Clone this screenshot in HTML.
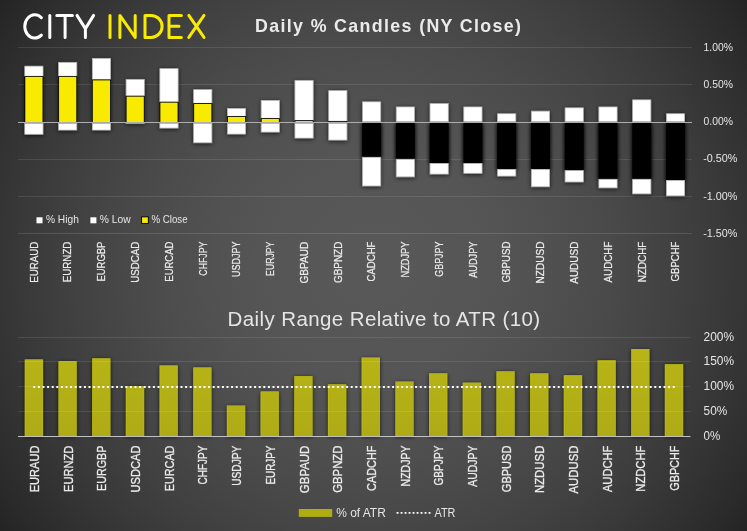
<!DOCTYPE html>
<html><head><meta charset="utf-8"><title>Daily % Candles</title>
<style>html,body{margin:0;padding:0;background:#2a2a2a;}body{width:747px;height:531px;overflow:hidden;}svg{display:block;font-family:"Liberation Sans",sans-serif;}text{opacity:0.996;}</style></head><body>
<svg width="747" height="531" viewBox="0 0 747 531">
<defs><radialGradient id="bg" gradientUnits="userSpaceOnUse" cx="373.5" cy="265.5" r="470"><stop offset="0.00" stop-color="#585858"/><stop offset="0.08" stop-color="#585858"/><stop offset="0.17" stop-color="#565656"/><stop offset="0.25" stop-color="#555555"/><stop offset="0.33" stop-color="#525252"/><stop offset="0.42" stop-color="#4e4e4e"/><stop offset="0.50" stop-color="#4a4a4a"/><stop offset="0.58" stop-color="#454545"/><stop offset="0.67" stop-color="#3f3f3f"/><stop offset="0.75" stop-color="#393939"/><stop offset="0.83" stop-color="#323232"/><stop offset="0.92" stop-color="#2a2a2a"/><stop offset="1.00" stop-color="#212121"/></radialGradient><filter id="sh" x="-30%" y="-30%" width="160%" height="160%"><feGaussianBlur in="SourceAlpha" stdDeviation="1.9"/><feOffset dx="0" dy="0.8"/><feComponentTransfer><feFuncA type="linear" slope="0.72"/></feComponentTransfer><feMerge><feMergeNode/><feMergeNode in="SourceGraphic"/></feMerge></filter><filter id="sh2" x="-40%" y="-10%" width="180%" height="120%"><feGaussianBlur in="SourceAlpha" stdDeviation="2.3"/><feOffset dx="0" dy="0.5"/><feComponentTransfer><feFuncA type="linear" slope="0.85"/></feComponentTransfer></filter><linearGradient id="ol" gradientUnits="userSpaceOnUse" x1="0" x2="0" y1="345" y2="436"><stop offset="0" stop-color="#b9b514"/><stop offset="1" stop-color="#aeab13"/></linearGradient></defs>
<rect width="747" height="531" fill="url(#bg)"/>
<rect x="18" y="47.0" width="674" height="1" fill="#fff" fill-opacity="0.105"/>
<rect x="18" y="84.0" width="674" height="1" fill="#fff" fill-opacity="0.105"/>
<rect x="18" y="159.0" width="674" height="1" fill="#fff" fill-opacity="0.105"/>
<rect x="18" y="196.0" width="674" height="1" fill="#fff" fill-opacity="0.105"/>
<rect x="18" y="233.0" width="674" height="1" fill="#fff" fill-opacity="0.125"/>
<g filter="url(#sh2)">
<rect x="362.2" y="123.0" width="18.9" height="33.9" fill="#000"/>
<rect x="395.9" y="123.0" width="18.9" height="35.9" fill="#000"/>
<rect x="429.7" y="123.0" width="18.9" height="40.1" fill="#000"/>
<rect x="463.5" y="123.0" width="18.9" height="40.1" fill="#000"/>
<rect x="497.2" y="123.0" width="18.9" height="46.0" fill="#000"/>
<rect x="531.0" y="123.0" width="18.9" height="46.0" fill="#000"/>
<rect x="564.8" y="123.0" width="18.9" height="47.2" fill="#000"/>
<rect x="598.5" y="123.0" width="18.9" height="55.9" fill="#000"/>
<rect x="632.3" y="123.0" width="18.9" height="55.9" fill="#000"/>
<rect x="666.1" y="123.0" width="18.9" height="57.0" fill="#000"/>
</g>
<g filter="url(#sh)">
<rect x="24.80" y="66.15" width="18.20" height="10.00" fill="#fff" stroke="#b4b4b4" stroke-width="0.7"/>
<rect x="24.45" y="76.00" width="18.9" height="46.00" fill="#0c0c0c"/>
<rect x="25.30" y="76.85" width="17.20" height="45.15" fill="#f8ea00"/>
<rect x="24.80" y="123.35" width="18.20" height="10.90" fill="#fff" stroke="#b4b4b4" stroke-width="0.7"/>
<rect x="58.57" y="62.35" width="18.20" height="13.80" fill="#fff" stroke="#b4b4b4" stroke-width="0.7"/>
<rect x="58.22" y="76.00" width="18.9" height="46.00" fill="#0c0c0c"/>
<rect x="59.07" y="76.85" width="17.20" height="45.15" fill="#f8ea00"/>
<rect x="58.57" y="123.35" width="18.20" height="6.70" fill="#fff" stroke="#b4b4b4" stroke-width="0.7"/>
<rect x="92.34" y="58.35" width="18.20" height="21.30" fill="#fff" stroke="#b4b4b4" stroke-width="0.7"/>
<rect x="91.99" y="79.50" width="18.9" height="42.50" fill="#0c0c0c"/>
<rect x="92.84" y="80.35" width="17.20" height="41.65" fill="#f8ea00"/>
<rect x="92.34" y="123.35" width="18.20" height="6.70" fill="#fff" stroke="#b4b4b4" stroke-width="0.7"/>
<rect x="126.11" y="79.35" width="18.20" height="16.60" fill="#fff" stroke="#b4b4b4" stroke-width="0.7"/>
<rect x="125.76" y="95.80" width="18.9" height="26.20" fill="#0c0c0c"/>
<rect x="126.61" y="96.65" width="17.20" height="25.35" fill="#f8ea00"/>
<rect x="125.76" y="123.00" width="18.90" height="1" fill="#a2a2a2"/>
<rect x="159.88" y="68.65" width="18.20" height="33.30" fill="#fff" stroke="#b4b4b4" stroke-width="0.7"/>
<rect x="159.53" y="101.80" width="18.9" height="20.20" fill="#0c0c0c"/>
<rect x="160.38" y="102.65" width="17.20" height="19.35" fill="#f8ea00"/>
<rect x="159.88" y="123.35" width="18.20" height="4.70" fill="#fff" stroke="#b4b4b4" stroke-width="0.7"/>
<rect x="193.65" y="89.65" width="18.20" height="13.60" fill="#fff" stroke="#b4b4b4" stroke-width="0.7"/>
<rect x="193.30" y="103.10" width="18.9" height="18.90" fill="#0c0c0c"/>
<rect x="194.15" y="103.95" width="17.20" height="18.05" fill="#f8ea00"/>
<rect x="193.65" y="123.35" width="18.20" height="19.40" fill="#fff" stroke="#b4b4b4" stroke-width="0.7"/>
<rect x="227.42" y="108.35" width="18.20" height="7.90" fill="#fff" stroke="#b4b4b4" stroke-width="0.7"/>
<rect x="227.07" y="116.10" width="18.9" height="5.90" fill="#0c0c0c"/>
<rect x="227.92" y="116.95" width="17.20" height="5.05" fill="#f8ea00"/>
<rect x="227.42" y="123.35" width="18.20" height="10.70" fill="#fff" stroke="#b4b4b4" stroke-width="0.7"/>
<rect x="261.19" y="100.35" width="18.20" height="17.90" fill="#fff" stroke="#b4b4b4" stroke-width="0.7"/>
<rect x="260.84" y="118.10" width="18.9" height="3.90" fill="#0c0c0c"/>
<rect x="261.69" y="118.95" width="17.20" height="3.05" fill="#f8ea00"/>
<rect x="261.19" y="123.35" width="18.20" height="8.70" fill="#fff" stroke="#b4b4b4" stroke-width="0.7"/>
<rect x="294.96" y="80.35" width="18.20" height="40.00" fill="#fff" stroke="#b4b4b4" stroke-width="0.7"/>
<rect x="294.61" y="120.20" width="18.9" height="1.80" fill="#0c0c0c"/>
<rect x="295.46" y="121.05" width="17.20" height="0.95" fill="#f8ea00"/>
<rect x="294.96" y="123.35" width="18.20" height="14.70" fill="#fff" stroke="#b4b4b4" stroke-width="0.7"/>
<rect x="328.73" y="90.65" width="18.20" height="30.50" fill="#fff" stroke="#b4b4b4" stroke-width="0.7"/>
<rect x="328.38" y="121.00" width="18.9" height="1.00" fill="#0c0c0c"/>
<rect x="329.23" y="121.85" width="17.20" height="0.15" fill="#f8ea00"/>
<rect x="328.73" y="123.35" width="18.20" height="16.70" fill="#fff" stroke="#b4b4b4" stroke-width="0.7"/>
<rect x="362.50" y="101.85" width="18.20" height="19.80" fill="#fff" stroke="#b4b4b4" stroke-width="0.7"/>
<rect x="362.2" y="123.0" width="18.9" height="33.9" fill="#000"/>
<rect x="362.50" y="157.25" width="18.20" height="28.70" fill="#fff" stroke="#b4b4b4" stroke-width="0.7"/>
<rect x="396.27" y="106.95" width="18.20" height="14.70" fill="#fff" stroke="#b4b4b4" stroke-width="0.7"/>
<rect x="395.9" y="123.0" width="18.9" height="35.9" fill="#000"/>
<rect x="396.27" y="159.25" width="18.20" height="17.60" fill="#fff" stroke="#b4b4b4" stroke-width="0.7"/>
<rect x="430.04" y="103.55" width="18.20" height="18.10" fill="#fff" stroke="#b4b4b4" stroke-width="0.7"/>
<rect x="429.7" y="123.0" width="18.9" height="40.1" fill="#000"/>
<rect x="430.04" y="163.45" width="18.20" height="10.60" fill="#fff" stroke="#b4b4b4" stroke-width="0.7"/>
<rect x="463.81" y="106.95" width="18.20" height="14.70" fill="#fff" stroke="#b4b4b4" stroke-width="0.7"/>
<rect x="463.5" y="123.0" width="18.9" height="40.1" fill="#000"/>
<rect x="463.81" y="163.45" width="18.20" height="9.80" fill="#fff" stroke="#b4b4b4" stroke-width="0.7"/>
<rect x="497.58" y="113.75" width="18.20" height="7.90" fill="#fff" stroke="#b4b4b4" stroke-width="0.7"/>
<rect x="497.2" y="123.0" width="18.9" height="46.0" fill="#000"/>
<rect x="497.58" y="169.35" width="18.20" height="6.70" fill="#fff" stroke="#b4b4b4" stroke-width="0.7"/>
<rect x="531.35" y="111.15" width="18.20" height="10.50" fill="#fff" stroke="#b4b4b4" stroke-width="0.7"/>
<rect x="531.0" y="123.0" width="18.9" height="46.0" fill="#000"/>
<rect x="531.35" y="169.35" width="18.20" height="17.40" fill="#fff" stroke="#b4b4b4" stroke-width="0.7"/>
<rect x="565.12" y="107.85" width="18.20" height="13.80" fill="#fff" stroke="#b4b4b4" stroke-width="0.7"/>
<rect x="564.8" y="123.0" width="18.9" height="47.2" fill="#000"/>
<rect x="565.12" y="170.55" width="18.20" height="11.40" fill="#fff" stroke="#b4b4b4" stroke-width="0.7"/>
<rect x="598.89" y="106.95" width="18.20" height="14.70" fill="#fff" stroke="#b4b4b4" stroke-width="0.7"/>
<rect x="598.5" y="123.0" width="18.9" height="55.9" fill="#000"/>
<rect x="598.89" y="179.25" width="18.20" height="8.60" fill="#fff" stroke="#b4b4b4" stroke-width="0.7"/>
<rect x="632.66" y="99.85" width="18.20" height="21.80" fill="#fff" stroke="#b4b4b4" stroke-width="0.7"/>
<rect x="632.3" y="123.0" width="18.9" height="55.9" fill="#000"/>
<rect x="632.66" y="179.25" width="18.20" height="14.60" fill="#fff" stroke="#b4b4b4" stroke-width="0.7"/>
<rect x="666.43" y="113.75" width="18.20" height="7.90" fill="#fff" stroke="#b4b4b4" stroke-width="0.7"/>
<rect x="666.1" y="123.0" width="18.9" height="57.0" fill="#000"/>
<rect x="666.43" y="180.35" width="18.20" height="15.50" fill="#fff" stroke="#b4b4b4" stroke-width="0.7"/>
</g>
<rect x="18" y="122.0" width="674" height="1" fill="#adadad"/>
<text x="703.6" y="51.2" font-size="10.5" fill="#e6e6e6" textLength="29.4" lengthAdjust="spacingAndGlyphs">1.00%</text>
<text x="703.6" y="88.2" font-size="10.5" fill="#e6e6e6" textLength="29.4" lengthAdjust="spacingAndGlyphs">0.50%</text>
<text x="703.6" y="125.4" font-size="10.5" fill="#e6e6e6" textLength="29.4" lengthAdjust="spacingAndGlyphs">0.00%</text>
<text x="703.2" y="162.1" font-size="10.5" fill="#e6e6e6" textLength="34.2" lengthAdjust="spacingAndGlyphs">-0.50%</text>
<text x="703.2" y="200.2" font-size="10.5" fill="#e6e6e6" textLength="34.2" lengthAdjust="spacingAndGlyphs">-1.00%</text>
<text x="703.2" y="236.8" font-size="10.5" fill="#e6e6e6" textLength="34.2" lengthAdjust="spacingAndGlyphs">-1.50%</text>
<text transform="translate(37.6 241.6) rotate(-90)" font-size="11.4" fill="#ececec" stroke="#ececec" stroke-width="0.25" text-anchor="end" textLength="41.1" lengthAdjust="spacingAndGlyphs">EURAUD</text>
<text transform="translate(71.4 241.6) rotate(-90)" font-size="11.4" fill="#ececec" stroke="#ececec" stroke-width="0.25" text-anchor="end" textLength="40.7" lengthAdjust="spacingAndGlyphs">EURNZD</text>
<text transform="translate(105.1 241.6) rotate(-90)" font-size="11.4" fill="#ececec" stroke="#ececec" stroke-width="0.25" text-anchor="end" textLength="40.0" lengthAdjust="spacingAndGlyphs">EURGBP</text>
<text transform="translate(138.9 241.6) rotate(-90)" font-size="11.4" fill="#ececec" stroke="#ececec" stroke-width="0.25" text-anchor="end" textLength="41.2" lengthAdjust="spacingAndGlyphs">USDCAD</text>
<text transform="translate(172.7 241.6) rotate(-90)" font-size="11.4" fill="#ececec" stroke="#ececec" stroke-width="0.25" text-anchor="end" textLength="40.1" lengthAdjust="spacingAndGlyphs">EURCAD</text>
<text transform="translate(206.5 241.6) rotate(-90)" font-size="11.4" fill="#ececec" stroke="#ececec" stroke-width="0.25" text-anchor="end" textLength="34.1" lengthAdjust="spacingAndGlyphs">CHFJPY</text>
<text transform="translate(240.2 241.6) rotate(-90)" font-size="11.4" fill="#ececec" stroke="#ececec" stroke-width="0.25" text-anchor="end" textLength="35.4" lengthAdjust="spacingAndGlyphs">USDJPY</text>
<text transform="translate(274.0 241.6) rotate(-90)" font-size="11.4" fill="#ececec" stroke="#ececec" stroke-width="0.25" text-anchor="end" textLength="34.3" lengthAdjust="spacingAndGlyphs">EURJPY</text>
<text transform="translate(307.8 241.6) rotate(-90)" font-size="11.4" fill="#ececec" stroke="#ececec" stroke-width="0.25" text-anchor="end" textLength="41.9" lengthAdjust="spacingAndGlyphs">GBPAUD</text>
<text transform="translate(341.5 241.6) rotate(-90)" font-size="11.4" fill="#ececec" stroke="#ececec" stroke-width="0.25" text-anchor="end" textLength="41.5" lengthAdjust="spacingAndGlyphs">GBPNZD</text>
<text transform="translate(375.3 241.6) rotate(-90)" font-size="11.4" fill="#ececec" stroke="#ececec" stroke-width="0.25" text-anchor="end" textLength="39.9" lengthAdjust="spacingAndGlyphs">CADCHF</text>
<text transform="translate(409.1 241.6) rotate(-90)" font-size="11.4" fill="#ececec" stroke="#ececec" stroke-width="0.25" text-anchor="end" textLength="35.9" lengthAdjust="spacingAndGlyphs">NZDJPY</text>
<text transform="translate(442.8 241.6) rotate(-90)" font-size="11.4" fill="#ececec" stroke="#ececec" stroke-width="0.25" text-anchor="end" textLength="35.1" lengthAdjust="spacingAndGlyphs">GBPJPY</text>
<text transform="translate(476.6 241.6) rotate(-90)" font-size="11.4" fill="#ececec" stroke="#ececec" stroke-width="0.25" text-anchor="end" textLength="36.2" lengthAdjust="spacingAndGlyphs">AUDJPY</text>
<text transform="translate(510.4 241.6) rotate(-90)" font-size="11.4" fill="#ececec" stroke="#ececec" stroke-width="0.25" text-anchor="end" textLength="41.0" lengthAdjust="spacingAndGlyphs">GBPUSD</text>
<text transform="translate(544.2 241.6) rotate(-90)" font-size="11.4" fill="#ececec" stroke="#ececec" stroke-width="0.25" text-anchor="end" textLength="41.8" lengthAdjust="spacingAndGlyphs">NZDUSD</text>
<text transform="translate(577.9 241.6) rotate(-90)" font-size="11.4" fill="#ececec" stroke="#ececec" stroke-width="0.25" text-anchor="end" textLength="42.2" lengthAdjust="spacingAndGlyphs">AUDUSD</text>
<text transform="translate(611.7 241.6) rotate(-90)" font-size="11.4" fill="#ececec" stroke="#ececec" stroke-width="0.25" text-anchor="end" textLength="40.9" lengthAdjust="spacingAndGlyphs">AUDCHF</text>
<text transform="translate(645.5 241.6) rotate(-90)" font-size="11.4" fill="#ececec" stroke="#ececec" stroke-width="0.25" text-anchor="end" textLength="40.6" lengthAdjust="spacingAndGlyphs">NZDCHF</text>
<text transform="translate(679.2 241.6) rotate(-90)" font-size="11.4" fill="#ececec" stroke="#ececec" stroke-width="0.25" text-anchor="end" textLength="39.8" lengthAdjust="spacingAndGlyphs">GBPCHF</text>
<rect x="36.5" y="217.3" width="6" height="6" fill="#fff"/>
<text x="46" y="222.6" font-size="10.7" fill="#e6e6e6" textLength="32.8" lengthAdjust="spacingAndGlyphs">% High</text>
<rect x="90.4" y="217.3" width="6" height="6" fill="#fff"/>
<text x="99.8" y="222.6" font-size="10.7" fill="#e6e6e6" textLength="30.8" lengthAdjust="spacingAndGlyphs">% Low</text>
<rect x="141.1" y="216.4" width="7.7" height="7.5" fill="#0c0c0c"/><rect x="142.05" y="217.35" width="5.8" height="5.6" fill="#f8ea00"/>
<text x="151.4" y="222.6" font-size="10.7" fill="#e6e6e6" textLength="36.2" lengthAdjust="spacingAndGlyphs">% Close</text>
<text x="255" y="32.2" font-size="17.8" font-weight="bold" fill="#ececec" textLength="266" lengthAdjust="spacing">Daily % Candles (NY Close)</text>
<text x="227.6" y="326.4" font-size="20.5" fill="#e6e6e6" textLength="312.6" lengthAdjust="spacing">Daily Range Relative to ATR (10)</text>
<g fill="none" stroke-width="3" stroke-linecap="round" stroke-linejoin="round">
<g stroke="#fff">
<path d="M41.4 17.7 A10 11.6 0 1 0 41.4 35.1"/>
<path d="M49.8 15.4 V37.4"/>
<path d="M56.8 15.4 H72.4 M65.1 15.4 V37.4"/>
<path d="M77 15.4 L85.4 28.6 L93.6 15.4 M85.4 28.6 V37.4"/>
</g><g stroke="#f8ea00">
<path d="M110 15.4 V37.4"/>
<path d="M119.9 37.4 V15.4 L135.2 37.4 V15.4"/>
<path d="M145 15.4 V37.4 H151.1 A11 11 0 0 0 151.1 15.4 Z"/>
<path d="M181.4 15.4 H169 V37.4 H181.4 M169 26.2 H179"/>
<path d="M188.8 15.4 L204 37.4 M204 15.4 L188.8 37.4"/>
</g></g>
<g filter="url(#sh)">
<rect x="24.75" y="359.4" width="18.30" height="76.6" fill="#bab812"/>
<rect x="25.65" y="359.8" width="16.80" height="76.2" fill="url(#ol)"/>
<rect x="58.44" y="361.1" width="18.30" height="74.9" fill="#bab812"/>
<rect x="59.34" y="361.5" width="16.80" height="74.5" fill="url(#ol)"/>
<rect x="92.13" y="358.3" width="18.30" height="77.7" fill="#bab812"/>
<rect x="93.03" y="358.7" width="16.80" height="77.3" fill="url(#ol)"/>
<rect x="125.82" y="386.3" width="18.30" height="49.7" fill="#bab812"/>
<rect x="126.72" y="386.7" width="16.80" height="49.3" fill="url(#ol)"/>
<rect x="159.51" y="365.4" width="18.30" height="70.6" fill="#bab812"/>
<rect x="160.41" y="365.8" width="16.80" height="70.2" fill="url(#ol)"/>
<rect x="193.20" y="367.4" width="18.30" height="68.6" fill="#bab812"/>
<rect x="194.10" y="367.8" width="16.80" height="68.2" fill="url(#ol)"/>
<rect x="226.89" y="405.5" width="18.30" height="30.5" fill="#bab812"/>
<rect x="227.79" y="405.9" width="16.80" height="30.1" fill="url(#ol)"/>
<rect x="260.58" y="391.4" width="18.30" height="44.6" fill="#bab812"/>
<rect x="261.48" y="391.8" width="16.80" height="44.2" fill="url(#ol)"/>
<rect x="294.27" y="376.1" width="18.30" height="59.9" fill="#bab812"/>
<rect x="295.17" y="376.5" width="16.80" height="59.5" fill="url(#ol)"/>
<rect x="327.96" y="384.3" width="18.30" height="51.7" fill="#bab812"/>
<rect x="328.86" y="384.7" width="16.80" height="51.3" fill="url(#ol)"/>
<rect x="361.65" y="357.5" width="18.30" height="78.5" fill="#bab812"/>
<rect x="362.55" y="357.9" width="16.80" height="78.1" fill="url(#ol)"/>
<rect x="395.34" y="381.5" width="18.30" height="54.5" fill="#bab812"/>
<rect x="396.24" y="381.9" width="16.80" height="54.1" fill="url(#ol)"/>
<rect x="429.03" y="373.3" width="18.30" height="62.7" fill="#bab812"/>
<rect x="429.93" y="373.7" width="16.80" height="62.3" fill="url(#ol)"/>
<rect x="462.72" y="382.6" width="18.30" height="53.4" fill="#bab812"/>
<rect x="463.62" y="383.0" width="16.80" height="53.0" fill="url(#ol)"/>
<rect x="496.41" y="371.3" width="18.30" height="64.7" fill="#bab812"/>
<rect x="497.31" y="371.7" width="16.80" height="64.3" fill="url(#ol)"/>
<rect x="530.10" y="373.3" width="18.30" height="62.7" fill="#bab812"/>
<rect x="531.00" y="373.7" width="16.80" height="62.3" fill="url(#ol)"/>
<rect x="563.79" y="375.2" width="18.30" height="60.8" fill="#bab812"/>
<rect x="564.69" y="375.6" width="16.80" height="60.4" fill="url(#ol)"/>
<rect x="597.48" y="360.3" width="18.30" height="75.7" fill="#bab812"/>
<rect x="598.38" y="360.7" width="16.80" height="75.3" fill="url(#ol)"/>
<rect x="631.17" y="349.0" width="18.30" height="87.0" fill="#bab812"/>
<rect x="632.07" y="349.4" width="16.80" height="86.6" fill="url(#ol)"/>
<rect x="664.86" y="364.2" width="18.30" height="71.8" fill="#bab812"/>
<rect x="665.76" y="364.6" width="16.80" height="71.4" fill="url(#ol)"/>
</g>
<rect x="18" y="337.0" width="672.5" height="1" fill="#fff" fill-opacity="0.10"/>
<rect x="18" y="361.0" width="672.5" height="1" fill="#fff" fill-opacity="0.10"/>
<rect x="18" y="386.1" width="672.5" height="1" fill="#fff" fill-opacity="0.10"/>
<rect x="18" y="411.0" width="672.5" height="1" fill="#fff" fill-opacity="0.10"/>
<rect x="18" y="436.0" width="672.5" height="1" fill="#c2c2c2"/>
<line x1="33.3" y1="387" x2="675.0" y2="387" stroke="#fff" stroke-width="2" stroke-dasharray="2 2.6"/>
<text x="703.6" y="341.1" font-size="12.6" fill="#e6e6e6" textLength="30.5" lengthAdjust="spacingAndGlyphs">200%</text>
<text x="703.6" y="365.1" font-size="12.6" fill="#e6e6e6" textLength="30.5" lengthAdjust="spacingAndGlyphs">150%</text>
<text x="703.6" y="390.2" font-size="12.6" fill="#e6e6e6" textLength="30.5" lengthAdjust="spacingAndGlyphs">100%</text>
<text x="703.6" y="415.1" font-size="12.6" fill="#e6e6e6" textLength="23.6" lengthAdjust="spacingAndGlyphs">50%</text>
<text x="703.6" y="440.1" font-size="12.6" fill="#e6e6e6" textLength="16.7" lengthAdjust="spacingAndGlyphs">0%</text>
<text transform="translate(39.0 445.6) rotate(-90)" font-size="12.6" fill="#ececec" stroke="#ececec" stroke-width="0.3" text-anchor="end" textLength="46.7" lengthAdjust="spacingAndGlyphs">EURAUD</text>
<text transform="translate(72.7 445.6) rotate(-90)" font-size="12.6" fill="#ececec" stroke="#ececec" stroke-width="0.3" text-anchor="end" textLength="46.3" lengthAdjust="spacingAndGlyphs">EURNZD</text>
<text transform="translate(106.4 445.6) rotate(-90)" font-size="12.6" fill="#ececec" stroke="#ececec" stroke-width="0.3" text-anchor="end" textLength="45.4" lengthAdjust="spacingAndGlyphs">EURGBP</text>
<text transform="translate(140.1 445.6) rotate(-90)" font-size="12.6" fill="#ececec" stroke="#ececec" stroke-width="0.3" text-anchor="end" textLength="46.8" lengthAdjust="spacingAndGlyphs">USDCAD</text>
<text transform="translate(173.8 445.6) rotate(-90)" font-size="12.6" fill="#ececec" stroke="#ececec" stroke-width="0.3" text-anchor="end" textLength="45.6" lengthAdjust="spacingAndGlyphs">EURCAD</text>
<text transform="translate(207.4 445.6) rotate(-90)" font-size="12.6" fill="#ececec" stroke="#ececec" stroke-width="0.3" text-anchor="end" textLength="38.8" lengthAdjust="spacingAndGlyphs">CHFJPY</text>
<text transform="translate(241.1 445.6) rotate(-90)" font-size="12.6" fill="#ececec" stroke="#ececec" stroke-width="0.3" text-anchor="end" textLength="40.2" lengthAdjust="spacingAndGlyphs">USDJPY</text>
<text transform="translate(274.8 445.6) rotate(-90)" font-size="12.6" fill="#ececec" stroke="#ececec" stroke-width="0.3" text-anchor="end" textLength="39.0" lengthAdjust="spacingAndGlyphs">EURJPY</text>
<text transform="translate(308.5 445.6) rotate(-90)" font-size="12.6" fill="#ececec" stroke="#ececec" stroke-width="0.3" text-anchor="end" textLength="47.6" lengthAdjust="spacingAndGlyphs">GBPAUD</text>
<text transform="translate(342.2 445.6) rotate(-90)" font-size="12.6" fill="#ececec" stroke="#ececec" stroke-width="0.3" text-anchor="end" textLength="47.2" lengthAdjust="spacingAndGlyphs">GBPNZD</text>
<text transform="translate(375.9 445.6) rotate(-90)" font-size="12.6" fill="#ececec" stroke="#ececec" stroke-width="0.3" text-anchor="end" textLength="45.4" lengthAdjust="spacingAndGlyphs">CADCHF</text>
<text transform="translate(409.6 445.6) rotate(-90)" font-size="12.6" fill="#ececec" stroke="#ececec" stroke-width="0.3" text-anchor="end" textLength="40.8" lengthAdjust="spacingAndGlyphs">NZDJPY</text>
<text transform="translate(443.3 445.6) rotate(-90)" font-size="12.6" fill="#ececec" stroke="#ececec" stroke-width="0.3" text-anchor="end" textLength="39.9" lengthAdjust="spacingAndGlyphs">GBPJPY</text>
<text transform="translate(477.0 445.6) rotate(-90)" font-size="12.6" fill="#ececec" stroke="#ececec" stroke-width="0.3" text-anchor="end" textLength="41.2" lengthAdjust="spacingAndGlyphs">AUDJPY</text>
<text transform="translate(510.7 445.6) rotate(-90)" font-size="12.6" fill="#ececec" stroke="#ececec" stroke-width="0.3" text-anchor="end" textLength="46.6" lengthAdjust="spacingAndGlyphs">GBPUSD</text>
<text transform="translate(544.4 445.6) rotate(-90)" font-size="12.6" fill="#ececec" stroke="#ececec" stroke-width="0.3" text-anchor="end" textLength="47.5" lengthAdjust="spacingAndGlyphs">NZDUSD</text>
<text transform="translate(578.0 445.6) rotate(-90)" font-size="12.6" fill="#ececec" stroke="#ececec" stroke-width="0.3" text-anchor="end" textLength="47.9" lengthAdjust="spacingAndGlyphs">AUDUSD</text>
<text transform="translate(611.7 445.6) rotate(-90)" font-size="12.6" fill="#ececec" stroke="#ececec" stroke-width="0.3" text-anchor="end" textLength="46.5" lengthAdjust="spacingAndGlyphs">AUDCHF</text>
<text transform="translate(645.4 445.6) rotate(-90)" font-size="12.6" fill="#ececec" stroke="#ececec" stroke-width="0.3" text-anchor="end" textLength="46.1" lengthAdjust="spacingAndGlyphs">NZDCHF</text>
<text transform="translate(679.1 445.6) rotate(-90)" font-size="12.6" fill="#ececec" stroke="#ececec" stroke-width="0.3" text-anchor="end" textLength="45.2" lengthAdjust="spacingAndGlyphs">GBPCHF</text>
<rect x="298.8" y="509" width="33.4" height="7.9" fill="#b0ad13"/>
<text x="336.2" y="516.6" font-size="12.1" fill="#e6e6e6" textLength="49.6" lengthAdjust="spacingAndGlyphs">% of ATR</text>
<line x1="396.6" y1="512.9" x2="430.6" y2="512.9" stroke="#fff" stroke-width="1.9" stroke-dasharray="1.9 2.1"/>
<text x="434.5" y="516.6" font-size="12.1" fill="#e6e6e6" textLength="20.9" lengthAdjust="spacingAndGlyphs">ATR</text>
</svg></body></html>
